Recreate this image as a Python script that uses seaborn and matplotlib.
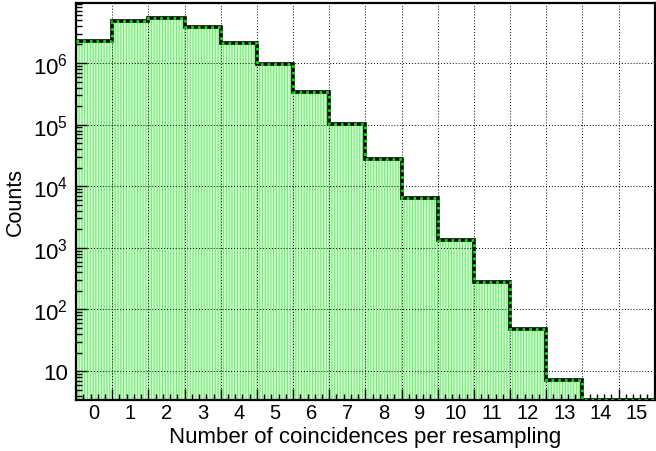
import matplotlib
matplotlib.use('Agg')
import matplotlib.pyplot as plt
import numpy as np
import pandas as pd
import seaborn as sns
from matplotlib.ticker import FixedLocator, MultipleLocator, NullFormatter, LogLocator

# coincidences per resampling (bin centres) and counts
n_coinc = list(range(16))
counts = [2.28e6, 4.86e6, 5.37e6, 3.8e6, 2.1e6, 9.6e5, 3.34e5, 1.02e5,
          2.77e4, 6.4e3, 1.36e3, 275, 48, 7.1, 0, 0]
y_ticks = [10, 1e2, 1e3, 1e4, 1e5, 1e6]
y_tick_labels = ['10', '$10^{2}$', '$10^{3}$', '$10^{4}$', '$10^{5}$', '$10^{6}$']

sns.set_theme(style='white')
plt.rcParams['font.family'] = ['Liberation Sans', 'DejaVu Sans']
plt.rcParams['mathtext.fontset'] = 'custom'
plt.rcParams['mathtext.rm'] = 'Liberation Sans'
plt.rcParams['mathtext.it'] = 'Liberation Sans:italic'
plt.rcParams['hatch.linewidth'] = 0.8
plt.rcParams['hatch.color'] = '#6cf06c'

ymin, ymax = 3.4, 9.4e6

fig = plt.figure(figsize=(6.56, 4.52), dpi=100)
ax = fig.add_axes([0.116, 0.113, 0.882, 0.878])

df = pd.DataFrame({'n': n_coinc, 'counts': counts})
sns.histplot(data=df, x='n', weights='counts', discrete=True, element='step',
             fill=True, facecolor='#d6f8d6', edgecolor='#6cf06c', linewidth=0,
             hatch='||||||', alpha=1, ax=ax)

edges = np.arange(len(n_coinc) + 1) - 0.5
line_vals = np.clip(np.array(counts), ymin, None)
ax.stairs(line_vals, edges, baseline=None, color='black', linewidth=2.6, zorder=3)
ax.stairs(line_vals, edges, baseline=None, color='#00e600', linewidth=2.0,
          linestyle=(0, (1, 1.4)), zorder=4)

ax.set_yscale('log')
ax.set_xlim(-0.5, 15.5)
ax.set_ylim(ymin, ymax)

ax.xaxis.set_major_locator(FixedLocator(edges))
ax.xaxis.set_major_formatter(NullFormatter())
ax.xaxis.set_minor_locator(MultipleLocator(0.2, offset=0.1))
ax.set_yticks(y_ticks, y_tick_labels)
ax.yaxis.set_minor_locator(LogLocator(base=10, subs=np.arange(2, 10)))
ax.yaxis.set_minor_formatter(NullFormatter())

ax.tick_params(which='both', direction='in', bottom=True, left=True,
               top=False, right=False, color='black', width=1)
ax.tick_params(which='major', length=8)
ax.tick_params(which='minor', length=4)
ax.tick_params(axis='y', which='major', labelsize=16, pad=6, labelcolor='black')
ax.tick_params(axis='x', which='major', pad=0)

ax.grid(True, which='major', color='black', linestyle=(0, (1, 2)), linewidth=0.7)
ax.set_axisbelow(False)

sec = ax.secondary_xaxis('bottom')
sec.set_xticks(n_coinc, [str(v) for v in n_coinc])
sec.tick_params(length=0, labelsize=14.5, pad=2, labelcolor='black')
sec.spines['bottom'].set_visible(False)

for s in ax.spines.values():
    s.set_color('black')
    s.set_linewidth(1.6)

sec.set_xlabel('Number of coincidences per resampling', fontsize=16, labelpad=3, color='black')
ax.set_xlabel('')
ax.set_ylabel('Counts', fontsize=15.5, labelpad=5, color='black')

fig.savefig('out.png', dpi=100)
